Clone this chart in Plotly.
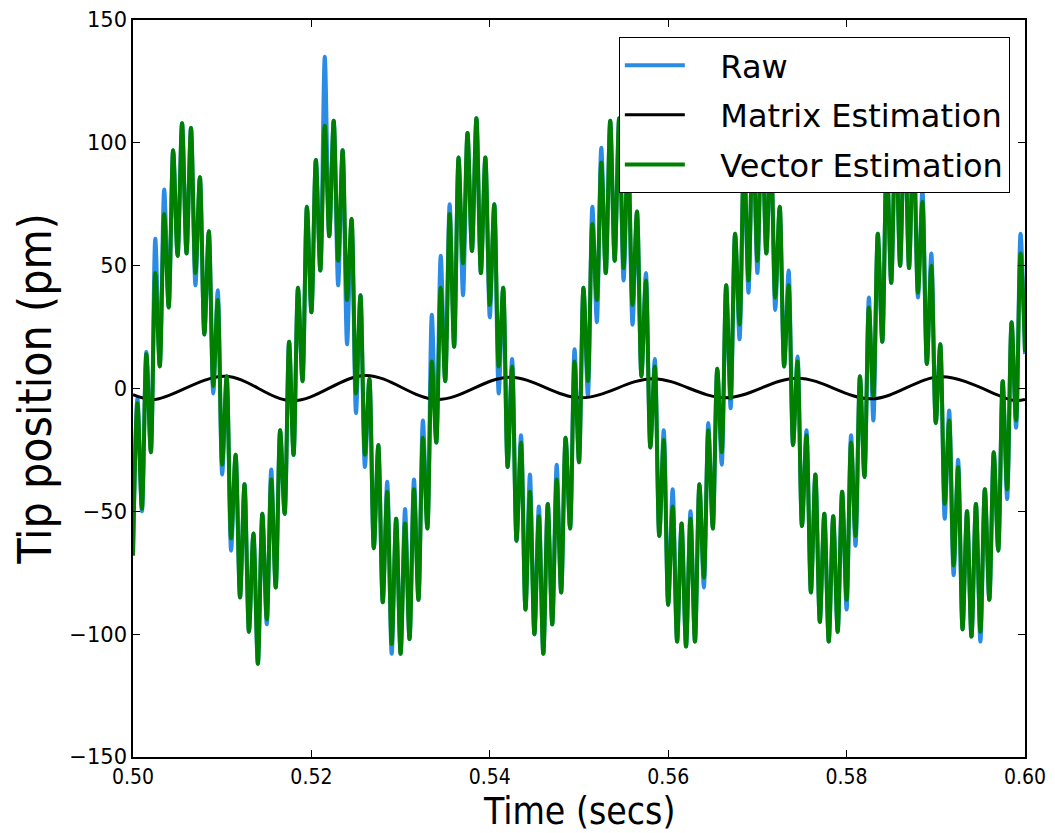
import plotly.graph_objects as go

# ---- data (time in seconds, position in pm) ----
time_s = [
    0.5000, 0.5005, 0.5010, 0.5015, 0.5020, 0.5025, 0.5030, 0.5035, 0.5040, 0.5045,
    0.5050, 0.5055, 0.5060, 0.5065, 0.5070, 0.5075, 0.5080, 0.5085, 0.5090, 0.5095,
    0.5100, 0.5105, 0.5110, 0.5115, 0.5120, 0.5125, 0.5130, 0.5135, 0.5140, 0.5145,
    0.5150, 0.5155, 0.5160, 0.5165, 0.5170, 0.5175, 0.5180, 0.5185, 0.5190, 0.5195,
    0.5200, 0.5205, 0.5210, 0.5215, 0.5220, 0.5225, 0.5230, 0.5235, 0.5240, 0.5245,
    0.5250, 0.5255, 0.5260, 0.5265, 0.5270, 0.5275, 0.5280, 0.5285, 0.5290, 0.5295,
    0.5300, 0.5305, 0.5310, 0.5315, 0.5320, 0.5325, 0.5330, 0.5335, 0.5340, 0.5345,
    0.5350, 0.5355, 0.5360, 0.5365, 0.5370, 0.5375, 0.5380, 0.5385, 0.5390, 0.5395,
    0.5400, 0.5405, 0.5410, 0.5415, 0.5420, 0.5425, 0.5430, 0.5435, 0.5440, 0.5445,
    0.5450, 0.5455, 0.5460, 0.5465, 0.5470, 0.5475, 0.5480, 0.5485, 0.5490, 0.5495,
    0.5500, 0.5505, 0.5510, 0.5515, 0.5520, 0.5525, 0.5530, 0.5535, 0.5540, 0.5545,
    0.5550, 0.5555, 0.5560, 0.5565, 0.5570, 0.5575, 0.5580, 0.5585, 0.5590, 0.5595,
    0.5600, 0.5605, 0.5610, 0.5615, 0.5620, 0.5625, 0.5630, 0.5635, 0.5640, 0.5645,
    0.5650, 0.5655, 0.5660, 0.5665, 0.5670, 0.5675, 0.5680, 0.5685, 0.5690, 0.5695,
    0.5700, 0.5705, 0.5710, 0.5715, 0.5720, 0.5725, 0.5730, 0.5735, 0.5740, 0.5745,
    0.5750, 0.5755, 0.5760, 0.5765, 0.5770, 0.5775, 0.5780, 0.5785, 0.5790, 0.5795,
    0.5800, 0.5805, 0.5810, 0.5815, 0.5820, 0.5825, 0.5830, 0.5835, 0.5840, 0.5845,
    0.5850, 0.5855, 0.5860, 0.5865, 0.5870, 0.5875, 0.5880, 0.5885, 0.5890, 0.5895,
    0.5900, 0.5905, 0.5910, 0.5915, 0.5920, 0.5925, 0.5930, 0.5935, 0.5940, 0.5945,
    0.5950, 0.5955, 0.5960, 0.5965, 0.5970, 0.5975, 0.5980, 0.5985, 0.5990, 0.5995,
    0.6000,
]

vector_pm = [
    -68, -6, -49, 14, -26, 47, 9, 71, 33, 97,
    54, 108, 55, 106, 47, 86, 22, 64, 1, 36,
    -31, 5, -61, -27, -85, -39, -99, -59, -112, -51,
    -94, -37, -81, -17, -51, 19, -27, 41, 3, 74,
    31, 93, 48, 107, 62, 109, 52, 97, 36, 69,
    -2, 38, -27, 4, -65, -23, -87, -42, -104, -53,
    -108, -55, -102, -41, -86, -20, -57, 11, -22, 41,
    3, 71, 17, 94, 51, 104, 56, 110, 47, 94,
    34, 75, 9, 41, -32, 9, -62, -22, -90, -42,
    -100, -52, -108, -47, -96, -37, -83, -20, -57, 11,
    -30, 41, 3, 67, 36, 92, 47, 109, 52, 110,
    49, 98, 34, 72, 5, 44, -24, 9, -60, -21,
    -88, -48, -103, -55, -105, -53, -103, -39, -77, -17,
    -57, 8, -26, 42, -4, 63, 26, 95, 44, 107,
    52, 110, 55, 100, 37, 74, 9, 42, -23, 11,
    -56, -19, -83, -35, -95, -51, -103, -52, -99, -42,
    -86, -22, -60, 5, -36, 33, -3, 63, 19, 95,
    43, 108, 50, 110, 49, 104, 39, 76, 10, 50,
    -14, 18, -47, -13, -72, -32, -98, -50, -101, -47,
    -99, -41, -86, -26, -66, 3, -41, 27, -13, 55,
    15,
]

raw_pm = [
    -68, -4, -50, 15, -26, 61, 9, 81, 33, 97,
    54, 108, 55, 106, 42, 86, 22, 64, -2, 40,
    -35, 5, -66, -27, -85, -39, -99, -59, -112, -51,
    -96, -33, -81, -17, -51, 19, -27, 41, 3, 74,
    31, 93, 48, 135, 62, 109, 42, 97, 18, 69,
    -10, 38, -32, 4, -65, -23, -87, -38, -108, -53,
    -108, -49, -102, -37, -86, -13, -57, 30, -22, 54,
    3, 75, 17, 94, 38, 104, 56, 110, 47, 94,
    29, 75, -2, 41, -32, 12, -62, -19, -90, -35,
    -100, -48, -108, -47, -96, -31, -83, -20, -57, 16,
    -30, 41, -3, 74, 27, 98, 47, 109, 52, 110,
    44, 98, 26, 72, 5, 47, -24, 12, -60, -17,
    -88, -41, -103, -55, -105, -50, -103, -39, -81, -14,
    -57, 8, -31, 42, -8, 63, 20, 95, 39, 107,
    47, 110, 55, 100, 32, 74, 9, 48, -23, 13,
    -56, -17, -83, -35, -95, -51, -103, -52, -99, -42,
    -90, -19, -64, 5, -36, 37, -13, 63, 19, 95,
    43, 108, 50, 110, 49, 104, 37, 81, 10, 55,
    -14, 18, -53, -9, -76, -29, -98, -50, -101, -47,
    -103, -41, -86, -26, -66, 3, -45, 27, -16, 63,
    14,
]

matrix_time_s = [0.5000, 0.5024, 0.5103, 0.5179, 0.5261, 0.5341, 0.5422, 0.5502,
                 0.5583, 0.5664, 0.5745, 0.5828, 0.5907, 0.5987, 0.6000]
matrix_pm = [-2.5, -4.5, 5.0, -5.0, 5.3, -4.5, 4.6, -3.8,
             4.0, -3.8, 4.2, -4.2, 4.8, -4.8, -4.5]

x_ticks = [0.50, 0.52, 0.54, 0.56, 0.58, 0.60]
y_ticks = [-150, -100, -50, 0, 50, 100, 150]

COND = "DejaVu Sans Condensed, Liberation Sans Narrow, DejaVu Sans"
NORM = "DejaVu Sans, sans-serif"
PAD = "\u00a0\u00a0\u00a0"

fig = go.Figure()
fig.add_trace(go.Scatter(x=time_s, y=raw_pm, mode="lines", name=PAD + "Raw",
                         legendgroup="a",
                         line=dict(color="#2b8ce6", width=4, shape="spline", smoothing=0.9)))
fig.add_trace(go.Scatter(x=matrix_time_s, y=matrix_pm, mode="lines",
                         name=PAD + "Matrix Estimation", legendgroup="b",
                         line=dict(color="black", width=3, shape="spline", smoothing=1.0)))
fig.add_trace(go.Scatter(x=time_s, y=vector_pm, mode="lines",
                         name=PAD + "Vector Estimation", legendgroup="c",
                         line=dict(color="green", width=4, shape="spline", smoothing=0.9)))

axis_common = dict(showline=True, linecolor="black", linewidth=1.5, mirror="ticks",
                   ticks="inside", ticklen=7, tickwidth=1, tickcolor="black",
                   showgrid=False, zeroline=False)

fig.update_xaxes(range=[0.5, 0.6], tickvals=x_ticks, tickformat=".2f",
                 tickfont=dict(family=COND, size=21, color="black"),
                 **axis_common)
fig.update_yaxes(range=[-150, 150], tickvals=y_ticks,
                 tickfont=dict(family=NORM, size=21, color="black"),
                 title=dict(text="Tip position (pm)", font=dict(family=COND, size=46, color="black"),
                            standoff=8),
                 **axis_common)

# x-axis title placed below the tick labels
fig.add_annotation(text="Time (secs)", xref="paper", yref="paper", x=0.5, y=0,
                   xanchor="center", yanchor="top", yshift=-31, showarrow=False,
                   font=dict(family=COND, size=37, color="black"))

# the page adds an 8px body margin, so the figure is 8px smaller to fit the window
fig.update_layout(
    width=1047, height=825,
    margin=dict(l=125, r=30, t=12, b=76, autoexpand=False),
    plot_bgcolor="white", paper_bgcolor="white",
    showlegend=True,
    legend=dict(x=0.983, xanchor="right", y=0.977, yanchor="top",
                bgcolor="white", bordercolor="black", borderwidth=1,
                font=dict(family=NORM, size=32, color="black"),
                itemwidth=60, tracegroupgap=5),
)

fig.write_html("out.html")
